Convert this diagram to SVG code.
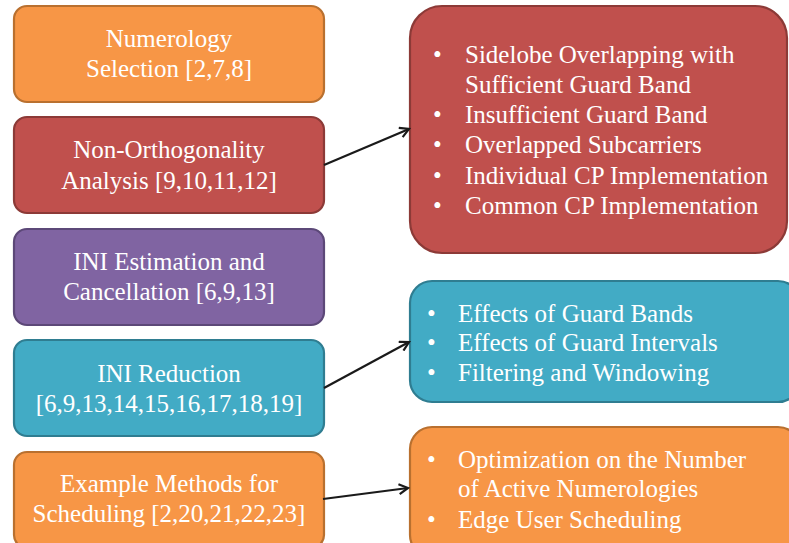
<svg xmlns="http://www.w3.org/2000/svg" width="789" height="543" viewBox="0 0 789 543">
<style>
text{font-family:"Liberation Serif","Times New Roman",serif;font-size:25px;fill:#fff}
.c{text-anchor:middle}
.box{stroke-width:2.2}
.or{fill:#F79646;stroke:#B9702F}
.rd{fill:#C0504D;stroke:#8C3A37}
.pu{fill:#8064A2;stroke:#5C4878}
.tq{fill:#42ABC5;stroke:#2F7D91}
.conn{stroke:#1a1a1a;stroke-width:2.2;fill:none}
</style>
<defs>
<marker id="arr" markerWidth="12" markerHeight="12" refX="10" refY="6" orient="auto" markerUnits="userSpaceOnUse">
<path d="M1,1 L10,6 L1,11" fill="none" stroke="#1a1a1a" stroke-width="2.2"/>
</marker>
</defs>
<g id="n1"><rect class="box or" x="14" y="6" width="310" height="96" rx="13"/>
<text class="c" x="169" y="47">Numerology</text><text class="c" x="169" y="77">Selection [2,7,8]</text></g>
<g id="n2"><rect class="box rd" x="14" y="117" width="310" height="96" rx="13"/>
<text class="c" x="169" y="158">Non-Orthogonality</text><text class="c" x="169" y="189">Analysis [9,10,11,12]</text></g>
<g id="n3"><rect class="box pu" x="14" y="229" width="310" height="96" rx="13"/>
<text class="c" x="169" y="270">INI Estimation and</text><text class="c" x="169" y="300">Cancellation [6,9,13]</text></g>
<g id="n4"><rect class="box tq" x="14" y="340" width="310" height="96" rx="13"/>
<text class="c" x="169" y="382">INI Reduction</text><text class="c" x="169" y="412">[6,9,13,14,15,16,17,18,19]</text></g>
<g id="n5"><rect class="box or" x="14" y="452" width="310" height="96" rx="13"/>
<text class="c" x="169" y="492">Example Methods for</text><text class="c" x="169" y="522">Scheduling [2,20,21,22,23]</text></g>
<g id="r1"><rect class="box rd" x="410" y="6" width="377" height="247" rx="32"/>
<text x="433" y="63">•</text><text x="465" y="63">Sidelobe Overlapping with</text>
<text x="465" y="93">Sufficient Guard Band</text>
<text x="433" y="123">•</text><text x="465" y="123">Insufficient Guard Band</text>
<text x="433" y="153">•</text><text x="465" y="153">Overlapped Subcarriers</text>
<text x="433" y="184">•</text><text x="465" y="184">Individual CP Implementation</text>
<text x="433" y="214">•</text><text x="465" y="214">Common CP Implementation</text></g>
<g id="r2"><rect class="box tq" x="410" y="281" width="390" height="121" rx="22"/>
<text x="427" y="322">•</text><text x="458" y="322">Effects of Guard Bands</text>
<text x="427" y="351">•</text><text x="458" y="351">Effects of Guard Intervals</text>
<text x="427" y="381">•</text><text x="458" y="381">Filtering and Windowing</text></g>
<g id="r3"><rect class="box or" x="410" y="427" width="390" height="130" rx="22"/>
<text x="427" y="468">•</text><text x="458" y="468">Optimization on the Number</text>
<text x="458" y="497">of Active Numerologies</text>
<text x="427" y="528">•</text><text x="458" y="528">Edge User Scheduling</text></g>
<g id="connectors">
<line class="conn" x1="324" y1="165" x2="409" y2="129" marker-end="url(#arr)"/>
<line class="conn" x1="324" y1="388" x2="409" y2="342" marker-end="url(#arr)"/>
<line class="conn" x1="323" y1="499" x2="408" y2="488" marker-end="url(#arr)"/>
</g>
</svg>
